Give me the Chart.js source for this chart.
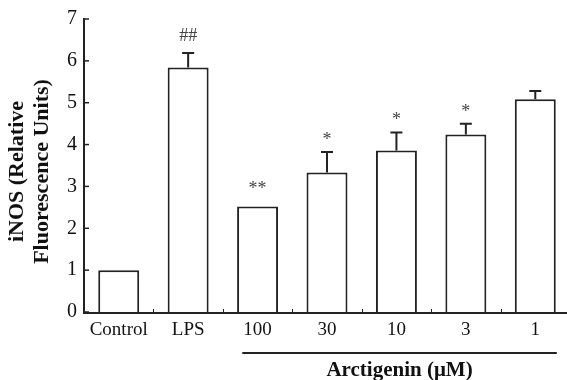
<!DOCTYPE html>
<html>
<head>
<meta charset="utf-8">
<script src="https://cdn.jsdelivr.net/npm/chart.js@4.4.1/dist/chart.umd.min.js"></script>
<style>
  html, body { margin: 0; padding: 0; background: #fff; overflow: hidden; }
  #wrap { position: absolute; left: 0; top: 0; width: 572px; height: 380px; }
</style>
</head>
<body>
<div id="wrap"><canvas id="c"></canvas></div>
<script>
const categories = ["Control", "LPS", "100", "30", "10", "3", "1"];
const values = [1.0, 5.84, 2.52, 3.33, 3.86, 4.24, 5.08];
const errors = [0, 0.35, 0, 0.49, 0.43, 0.26, 0.20];
const marks = ["", "##", "**", "*", "*", "*", ""];
const yTicks = [0, 1, 2, 3, 4, 5, 6, 7];
const yTitle = ["iNOS (Relative", "Fluorescence Units)"];
const groupLabel = "Arctigenin (μM)";
const groupFrom = 2, groupTo = 6;

const INK = "#222";
const SERIF = "'Liberation Serif', 'Times New Roman', serif";

const decor = {
  id: "decor",
  afterDatasetsDraw(chart) {
    const ctx = chart.ctx;
    const x = chart.scales.x, y = chart.scales.y;
    const area = chart.chartArea;
    const meta = chart.getDatasetMeta(0);
    ctx.save();
    // error bars
    ctx.strokeStyle = INK;
    ctx.lineWidth = 2;
    meta.data.forEach((bar, i) => {
      if (!errors[i]) return;
      const top = y.getPixelForValue(values[i] + errors[i]);
      const base = y.getPixelForValue(values[i]);
      ctx.beginPath();
      ctx.moveTo(bar.x, base);
      ctx.lineTo(bar.x, top);
      ctx.moveTo(bar.x - 6, top);
      ctx.lineTo(bar.x + 6, top);
      ctx.stroke();
    });
    // significance marks
    ctx.fillStyle = "#444";
    ctx.textAlign = "center";
    ctx.textBaseline = "alphabetic";
    ctx.font = "18px " + SERIF;
    meta.data.forEach((bar, i) => {
      if (!marks[i]) return;
      const top = y.getPixelForValue(values[i] + errors[i]);
      const gap = marks[i].startsWith("#") ? 12 : (errors[i] ? 7 : 13);
      ctx.fillText(marks[i], bar.x, top - gap);
    });
    // axes lines
    ctx.strokeStyle = INK;
    ctx.lineWidth = 2;
    ctx.beginPath();
    ctx.moveTo(area.left, y.getPixelForValue(7) - 1);
    ctx.lineTo(area.left, area.bottom + 1);
    ctx.lineTo(area.right, area.bottom + 1);
    ctx.stroke();
    // inward y ticks
    ctx.lineWidth = 1.5;
    yTicks.forEach(v => {
      const py = y.getPixelForValue(v);
      ctx.beginPath();
      ctx.moveTo(area.left, py);
      ctx.lineTo(area.left + 5, py);
      ctx.stroke();
    });
    // small x ticks at category boundaries
    ctx.lineWidth = 1;
    const w = (x.getPixelForValue(1) - x.getPixelForValue(0));
    for (let i = 0; i < categories.length - 1; i++) {
      const px = Math.round(x.getPixelForValue(i) + w / 2) + 0.5;
      ctx.beginPath();
      ctx.moveTo(px, area.bottom);
      ctx.lineTo(px, area.bottom - 3);
      ctx.stroke();
    }
    // group line + label
    const gx1 = x.getPixelForValue(groupFrom) - 0.22 * w;
    const gx2 = x.getPixelForValue(groupTo) + 0.31 * w;
    ctx.lineWidth = 2;
    ctx.beginPath();
    ctx.moveTo(gx1, 353);
    ctx.lineTo(gx2, 353);
    ctx.stroke();
    ctx.fillStyle = "#111";
    ctx.font = "bold 21px " + SERIF;
    ctx.textAlign = "center";
    ctx.fillText(groupLabel, (gx1 + gx2) / 2, 376);
    // y title
    ctx.save();
    ctx.font = "bold 22px " + SERIF;
    const cy = (area.top + area.bottom) / 2 + 6;
    ctx.translate(0, cy);
    ctx.rotate(-Math.PI / 2);
    ctx.textBaseline = "middle";
    ctx.fillText(yTitle[0], 0, 17);
    ctx.fillText(yTitle[1], 0, 42);
    ctx.restore();
    ctx.restore();
  }
};

new Chart(document.getElementById("c"), {
  type: "bar",
  data: {
    labels: categories,
    datasets: [{
      data: values,
      backgroundColor: "#fff",
      borderColor: INK,
      borderWidth: 2,
      borderSkipped: "bottom",
      categoryPercentage: 1,
      barPercentage: 0.59
    }]
  },
  options: {
    responsive: true,
    maintainAspectRatio: false,
    animation: false,
    devicePixelRatio: 1,
    layout: { padding: { top: 17, right: 2, bottom: 0, left: 0 } },
    plugins: { legend: { display: false }, tooltip: { enabled: false } },
    scales: {
      x: {
        grid: { display: false, drawTicks: false },
        border: { display: false },
        ticks: { color: "#111", font: { family: SERIF, size: 19 }, padding: 7, maxRotation: 0, autoSkip: false },
        afterFit(s) { s.height = 68; }
      },
      y: {
        min: 0, max: 7,
        grid: { display: false, drawTicks: false },
        border: { display: false },
        ticks: { stepSize: 1, color: "#111", font: { family: SERIF, size: 20 }, padding: 7 },
        afterFit(s) { s.width = 84; }
      }
    }
  },
  plugins: [decor]
});
</script>
</body>
</html>
